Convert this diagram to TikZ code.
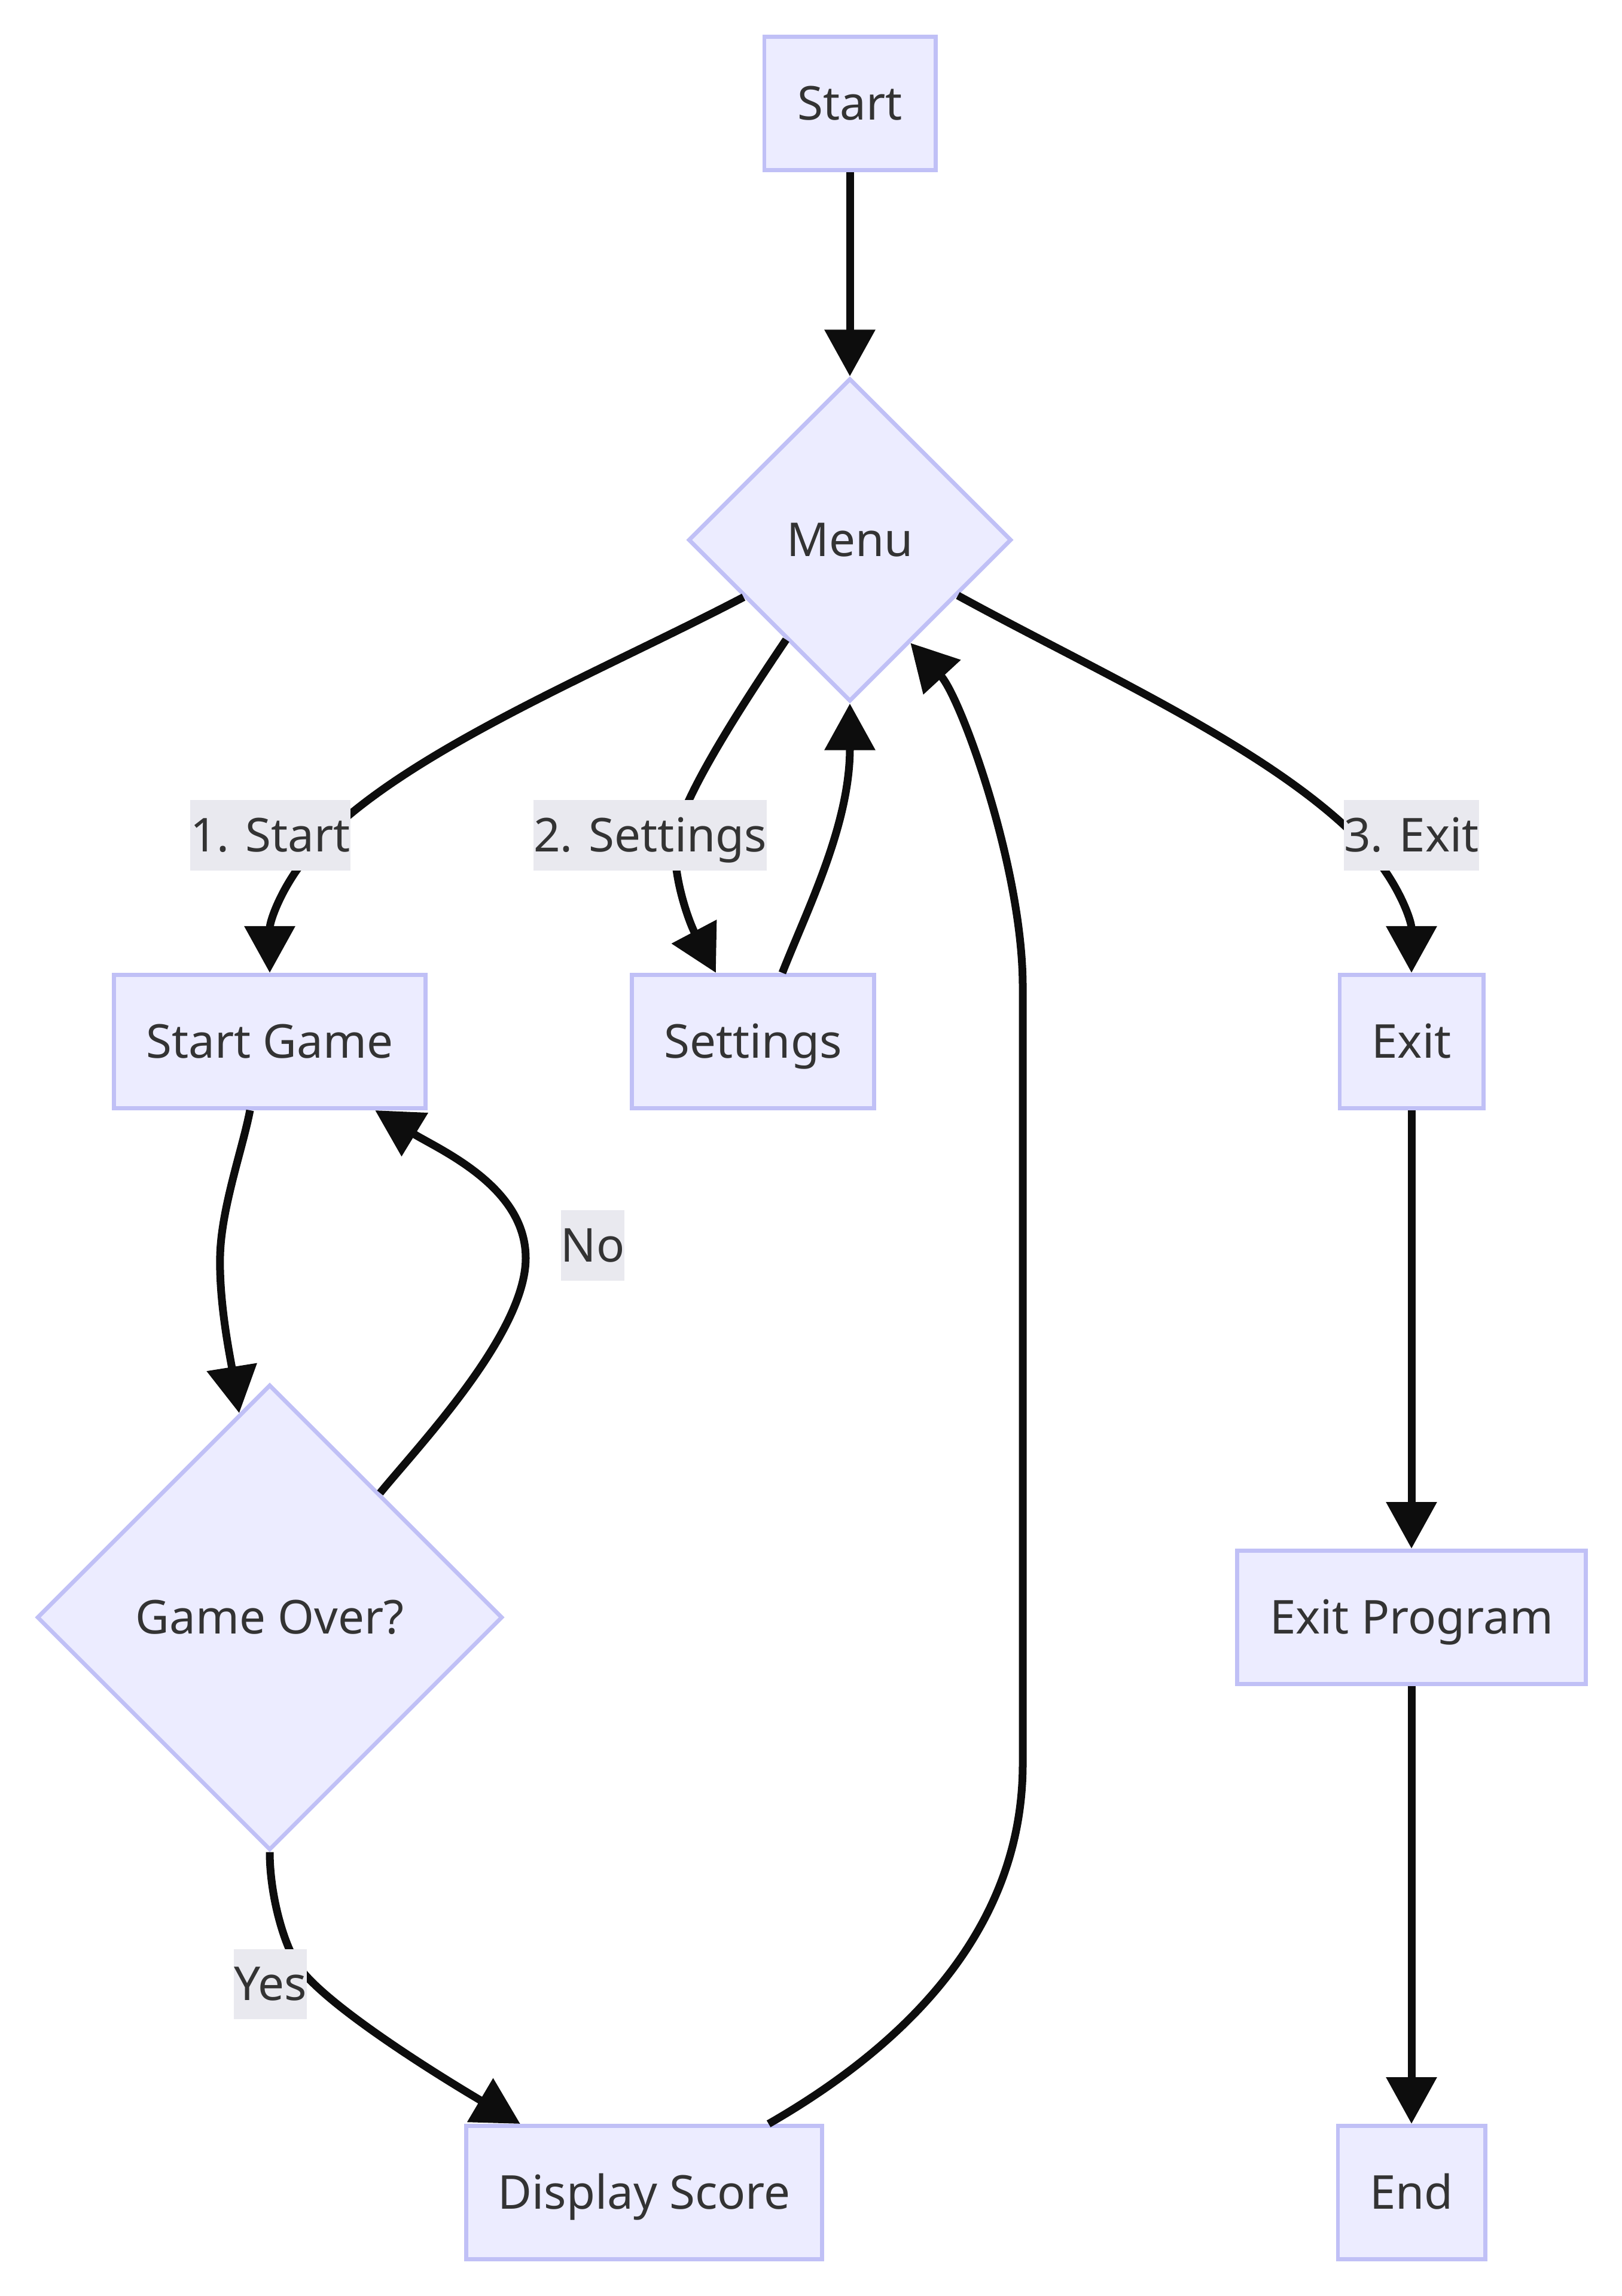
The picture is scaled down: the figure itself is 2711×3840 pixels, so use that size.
\documentclass[tikz,border=0pt]{standalone}
\usepackage{fontspec}
\setmainfont{Noto Sans}
\usetikzlibrary{shapes.geometric,arrows.meta,calc}
\definecolor{nodefill}{HTML}{ECECFF}
\definecolor{nodeborder}{HTML}{C0C0F6}
\definecolor{edgecol}{HTML}{0D0D0D}
\definecolor{txtcol}{HTML}{333333}
\definecolor{lblbg}{HTML}{E9E9EF}
\tikzset{
  base/.style={text=txtcol, font=\fontsize{22.2pt}{33pt}\selectfont, text height=15.85pt, text depth=0pt},
  box/.style={base, rectangle, draw=nodeborder, fill=nodefill, line width=0.068cm, minimum height=2.23cm, inner sep=0pt},
  dia/.style={base, diamond, aspect=1, draw=nodeborder, fill=nodefill, line width=0.068cm, inner sep=0pt},
  lbl/.style={base, fill=lblbg, inner xsep=0pt, inner ysep=0pt, minimum height=1.17cm},
  edge/.style={draw=edgecol, line width=0.13cm, -{Triangle[length=0.78cm,width=0.82cm]}}
}
\begin{document}
\begin{tikzpicture}[x=0.01cm, y=-0.01cm]
\useasboundingbox (0,0) rectangle (2711,3840);
% nodes
\node[box, minimum width=2.86cm] (start) at (1421,173) {Start};
\node[dia, minimum width=5.4cm, minimum height=5.4cm] (menu) at (1421,903) {Menu};
\node[box, minimum width=5.21cm] (sg) at (451,1742) {Start Game};
\node[box, minimum width=4.04cm] (set) at (1259,1742) {Settings};
\node[box, minimum width=2.40cm] (ex) at (2360,1742) {Exit};
\node[dia, minimum width=7.78cm, minimum height=7.78cm] (go) at (451,2705) {Game Over?};
\node[box, minimum width=5.82cm] (ep) at (2360,2705) {Exit Program};
\node[box, minimum width=5.95cm] (ds) at (1077,3667) {Display Score};
\node[box, minimum width=2.46cm] (end) at (2360,3667) {End};
% edges
\draw[edge] (start.south) -- (menu.north);
\draw[edge] ($(menu.west)!0.35!(menu.south)$) .. controls (1006,1123) and (684,1253) .. (534,1409) .. controls (474,1471) and (451,1540) .. (sg.north);
\draw[edge] ($(menu.west)!0.61!(menu.south)$) .. controls (1248,1168) and (1142,1330) .. (1130,1400) .. controls (1122,1460) and (1152,1542) .. ([xshift=-0.62cm]set.north);
\draw[edge] ([xshift=0.49cm]set.north) .. controls (1350,1520) and (1421,1380) .. (menu.south);
\draw[edge] ($(menu.east)!0.34!(menu.south)$) .. controls (1835,1124) and (2127,1253) .. (2277,1409) .. controls (2337,1471) and (2360,1540) .. (ex.north);
\draw[edge] ([xshift=-0.33cm]sg.south) .. controls (406,1920) and (370,2020) .. (368,2100) .. controls (366,2180) and (385,2270) .. ($(go.north)!0.13!(go.west)$);
\draw[edge] ($(go.north)!0.47!(go.east)$) .. controls (700,2418) and (879,2230) .. (879,2104) .. controls (879,1985) and (737,1924) .. ([xshift=1.76cm]sg.south);
\draw[edge] (go.south) .. controls (451,3170) and (475,3255) .. (500,3290) .. controls (545,3353) and (721,3464) .. ([xshift=-2.07cm]ds.north);
\draw[edge] ([xshift=2.08cm]ds.north) .. controls (1480,3440) and (1710,3250) .. (1710,2950) -- (1710,1650) .. controls (1710,1450) and (1606,1166) .. ($(menu.east)!0.63!(menu.south)$);
\draw[edge] (ex.south) -- (ep.north);
\draw[edge] (ep.south) -- (end.north);
% labels
\node[lbl] (l1) at (452,1397) {1. Start};
\node[lbl] (l2) at (1087,1397) {2. Settings};
\node[lbl] (l3) at (2360,1397) {3. Exit};
\node[lbl] (lno) at (991,2083) {No};
\node[lbl] (lyes) at (452,3318) {Yes};
\end{tikzpicture}
\end{document}
